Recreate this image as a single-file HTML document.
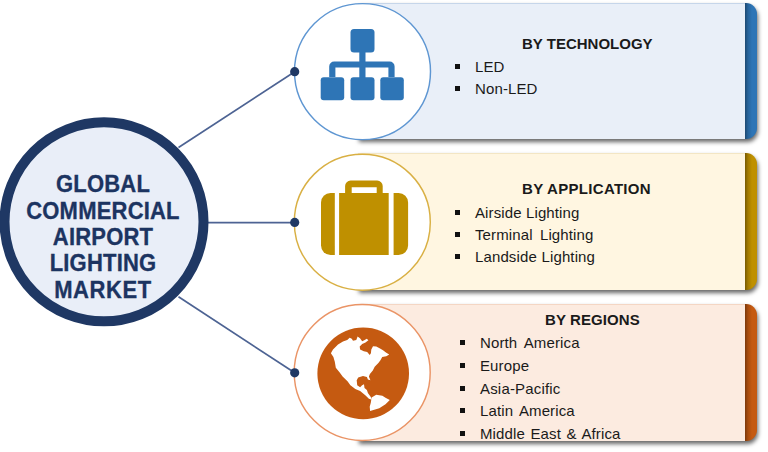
<!DOCTYPE html>
<html><head><meta charset="utf-8">
<style>
html,body{margin:0;padding:0;}
body{width:768px;height:452px;background:#fff;position:relative;overflow:hidden;font-family:"Liberation Sans",sans-serif;}
.band{position:absolute;left:358px;width:399px;height:136px;border-radius:0 11px 11px 0;box-shadow:1px 3px 4px rgba(0,0,0,.6);}
.fill{position:absolute;left:358px;width:387px;height:136px;}
.band::after{content:'';position:absolute;inset:0;border-radius:inherit;background:linear-gradient(to right,rgba(0,0,0,0) 387px,rgba(0,0,0,.38) 387px,rgba(0,0,0,.15) 390px,rgba(0,0,0,0) 394px);}
.t{position:absolute;white-space:nowrap;color:#1a1a1a;font-size:15px;line-height:22px;letter-spacing:.12px;}
.h{font-weight:bold;transform:scaleY(1.03);}
.big{left:-1px;width:208px;text-align:center;font-size:22px;line-height:26.4px;letter-spacing:.2px;color:#1c3461;-webkit-text-stroke:.3px #1c3461;transform:scaleY(1.05);transform-origin:50% 20.5px;}
.b{position:absolute;width:5px;height:5px;background:#111;}
svg{position:absolute;left:0;top:0;}
</style></head><body>
<!-- boxes -->
<div class="band" style="top:3px;background:#2e75b6"></div>
<div class="fill" style="top:3px;background:#e9eff8;border-top:1px solid #c6d6ea;height:135px"></div>
<div class="band" style="top:153px;background:#bf9000;height:137px"></div>
<div class="fill" style="top:153px;background:#fff6e1;border-top:1px solid #f3e6c4;height:136px"></div>
<div class="band" style="top:304px;background:#c55a11;height:137px"></div>
<div class="fill" style="top:304px;background:#fcebe0;border-top:1px solid #f4d6c4;height:136px"></div>

<svg width="768" height="452" viewBox="0 0 768 452">
  <!-- connector lines -->
  <g stroke="#4d6393" stroke-width="1.7" fill="none">
    <line x1="178.5" y1="147.5" x2="294.7" y2="71.7"/>
    <line x1="207" y1="222.6" x2="294.7" y2="222.6"/>
    <line x1="178.5" y1="296.8" x2="294.7" y2="372.8"/>
  </g>
  <!-- big circle -->
  <circle cx="104" cy="221.8" r="99.5" fill="#e9eef8" stroke="#1f3864" stroke-width="10"/>
  <!-- small circles -->
  <circle cx="362.5" cy="71.6" r="68" fill="#fff" stroke="#5e96d2" stroke-width="1.45"/>
  <circle cx="362.3" cy="222.2" r="68" fill="#fff" stroke="#d9b044" stroke-width="1.45"/>
  <circle cx="362.2" cy="372.5" r="68" fill="#fff" stroke="#ea9466" stroke-width="1.45"/>
  <!-- dots -->
  <g fill="#1f3864">
    <circle cx="294.7" cy="71.7" r="4.6"/>
    <circle cx="294.7" cy="222.4" r="4.6"/>
    <circle cx="294.7" cy="372.8" r="4.6"/>
  </g>
  <!-- hierarchy icon -->
  <g fill="#2e75b6">
    <rect x="350.5" y="29" width="24" height="23.5" rx="3.5"/>
    <rect x="359.3" y="50" width="6.2" height="29"/>
    <path d="M329.2 77 V66.5 a5 5 0 0 1 5 -5 H389.6 a5 5 0 0 1 5 5 V77 H388.4 V67.6 H335.4 V77 Z"/>
    <rect x="320.7" y="77.2" width="23.5" height="23" rx="3"/>
    <rect x="350.5" y="77.2" width="24" height="23" rx="3"/>
    <rect x="380.3" y="77.2" width="23.5" height="23" rx="3"/>
  </g>
  <!-- briefcase icon -->
  <g fill="#bf9000">
    <path d="M334.8 193 V255 H330.5 a9.5 9.5 0 0 1 -9.5 -9.5 V202.5 a9.5 9.5 0 0 1 9.5 -9.5 Z"/>
    <rect x="339.1" y="193" width="49.6" height="62"/>
    <path d="M393.6 193 H398.6 a9.5 9.5 0 0 1 9.5 9.5 V245.5 a9.5 9.5 0 0 1 -9.5 9.5 H393.6 Z"/>
    <path d="M345.1 194 V186.1 a5.5 5.5 0 0 1 5.5 -5.5 H377.2 a5.5 5.5 0 0 1 5.5 5.5 V194 H376.7 V187.2 H351.7 V194 Z"/>
  </g>
  <!-- globe icon -->
  <circle cx="363.2" cy="373.4" r="45.8" fill="#c55a11"/>
  <g fill="#fff">
    <path d="M330.9 353.25 L333 349.5 L338 344.5 L343 341.6 L347.2 339.9 L349.7 337.8 L351.75 338.7 L353 340.75 L356.3 339.9 L357.6 336.6 L360 338.25 L362.2 341.2 L364.7 339.9 L366.75 338.7 L368.4 340.3 L365.5 342.4 L362.2 344 L359.7 346.6 L360.1 349.5 L363.8 351.2 L367.2 352 L369.7 354.9 L370.9 353.25 L371.3 349.5 L373 346.2 L376.3 346.6 L380.5 348.7 L383 350.3 L386.3 352.8 L389.25 354.5 L386.3 356.2 L382.2 357 L380.6 359.9 L378.6 362.8 L374.7 366.7 L372.8 370.6 L369.9 374 L368.9 376.4 L370.4 380.3 L367.9 379.4 L366.9 376.9 L363 376 L358.2 377.4 L356.7 380.3 L357.2 385.2 L360.1 387.2 L362.1 385.2 L364 384.2 L364.5 388.1 L366.9 390.1 L367.9 393 L370.8 396.9 L371.8 399.8 L368.9 398.8 L365 395 L360.1 391 L355.3 389.1 L350.4 385.2 L347.5 381.3 L342.6 376.4 L339.7 372.6 L335.8 367.7 L334.8 361.8 L333.4 357 Z"/>
    <path d="M371.6 397.4 L376.2 394.7 L382.4 395.8 L385.5 397.8 L389.8 400.1 L385.5 404.3 L379.3 408.2 L370.1 410.9 L369.7 406.7 L370.8 402.8 Z"/>
  </g>
</svg>

<!-- big circle text -->
<div class="t h big" style="top:171.9px;">GLOBAL</div>
<div class="t h big" style="top:198.8px;">COMMERCIAL</div>
<div class="t h big" style="top:224.6px;">AIRPORT</div>
<div class="t h big" style="top:251px;">LIGHTING</div>
<div class="t h big" style="top:277.6px;letter-spacing:.6px;">MARKET</div>

<!-- technology -->
<div class="t h" style="left:522px;top:33px;letter-spacing:0">BY TECHNOLOGY</div>
<div class="b" style="left:455px;top:64px"></div>
<div class="b" style="left:455px;top:86px"></div>
<div class="t" style="left:475px;top:56px">LED</div>
<div class="t" style="left:475px;top:78px">Non-LED</div>

<!-- application -->
<div class="t h" style="left:522px;top:178px;letter-spacing:.3px">BY APPLICATION</div>
<div class="b" style="left:455px;top:210px"></div>
<div class="b" style="left:455px;top:232px"></div>
<div class="b" style="left:455px;top:254px"></div>
<div class="t" style="left:475px;top:202px">Airside Lighting</div>
<div class="t" style="left:475px;top:224px;word-spacing:3px">Terminal Lighting</div>
<div class="t" style="left:475px;top:246px;word-spacing:.4px">Landside Lighting</div>

<!-- regions -->
<div class="t h" style="left:545px;top:309px;letter-spacing:.1px">BY REGIONS</div>
<div class="b" style="left:460px;top:340px"></div>
<div class="b" style="left:460px;top:363px"></div>
<div class="b" style="left:460px;top:386px"></div>
<div class="b" style="left:460px;top:408px"></div>
<div class="b" style="left:460px;top:431px"></div>
<div class="t" style="left:480px;top:332px;word-spacing:3px">North America</div>
<div class="t" style="left:480px;top:355px">Europe</div>
<div class="t" style="left:480px;top:377.5px;letter-spacing:.18px">Asia-Pacific</div>
<div class="t" style="left:480px;top:400px;word-spacing:2.3px">Latin America</div>
<div class="t" style="left:480px;top:422.5px;word-spacing:1.3px">Middle East &amp; Africa</div>
</body></html>
